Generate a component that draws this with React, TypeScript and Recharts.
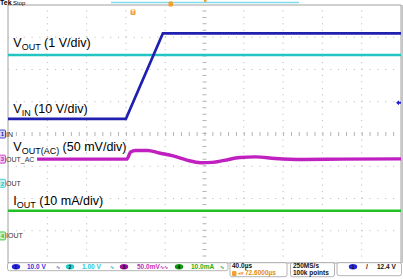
import React from 'react';
import { LineChart, Line, XAxis, YAxis, ReferenceLine, ReferenceArea, ReferenceDot } from 'recharts';

// Scope screen: 10 x 8 divisions. Every value below is in divisions.
const W = 403;
const H = 279;

const C = {
  vin: '#1f1fb0',
  vout: '#22c4c4',
  ac: '#c020c0',
  iout: '#22c022',
  grid: '#b4b4b4',
  border: '#a0a0a0',
  orange: '#f0a030',
  label: '#333',
};

const xDivs = [1, 2, 3, 4, 6, 7, 8, 9];
const yDivs = [-3, -2, -1, 1, 2, 3];

const vinTime = [0, 3.0, 3.94, 10];
const vinLevel = [0.47, 0.47, 3.12, 3.12];

const voutTime = [0, 10];
const voutLevel = [2.45, 2.45];

const acTime = [0.74, 3.02, 3.12, 3.25, 3.55, 3.85, 4.2, 4.55, 4.9, 5.2, 5.5, 5.9, 6.3, 6.8, 7.5, 8.5, 10];
const acLevel = [-0.78, -0.78, -0.56, -0.51, -0.51, -0.59, -0.68, -0.81, -0.89, -0.88, -0.82, -0.73, -0.71, -0.76, -0.79, -0.78, -0.77];

const ioutTime = [0, 10];
const ioutLevel = [-2.38, -2.38];

// channel ground tags on the left edge
const tagNums = ['1', '3', '2', '4'];
const tagNames = ['IN', 'OUT_AC', 'OUT', 'IOUT'];
const tagLevels = [0, -0.78, -1.53, -3.16];
const tagColors = [C.vin, C.ac, C.vout, C.iout];
const tagFills = ['#d4d4fa', '#f2c8f2', '#c8f0f0', '#c8f0c8'];

// trace annotations
const noteMain = ['V', 'V', 'V', 'I'];
const noteSub = ['OUT', 'IN', 'OUT(AC)', 'OUT'];
const noteRest = [' (1 V/div)', ' (10 V/div)', ' (50 mV/div)', ' (10 mA/div)'];
const noteLevels = [2.69, 0.66, -0.52, -2.21];
const noteTime = 0.135;

const trigTime = 3.18;
const trigLevel = 0.97;

const zip = (t: number[], v: number[]) => t.map((x, i) => ({ t: x, v: v[i] }));

function Tag({ cx, cy, num, name, color, fill }: any) {
  return (
    <g>
      <rect x={cx - 8.5} y={cy - 4} width={6} height={8} rx={1} fill={fill} stroke={color} strokeWidth={0.8} />
      <text x={cx - 5.5} y={cy + 2.3} fontSize={6} textAnchor="middle" fill={color} fontFamily="Liberation Sans" fontWeight="bold">{num}</text>
      <text x={cx - 2} y={cy + 2.5} fontSize={7} fill={C.label} fontFamily="Liberation Sans">{name}</text>
    </g>
  );
}

function Note({ cx, cy, main, sub, rest }: any) {
  return (
    <text x={cx} y={cy} fontSize={12.5} fill="#000" fontFamily="Liberation Sans">
      <tspan>{main}</tspan>
      <tspan dy={3} fontSize={9}>{sub}</tspan>
      <tspan dy={-3}>{rest}</tspan>
    </text>
  );
}

function TrigArrow({ cx, cy }: any) {
  return (
    <g fill="#2020d0">
      <polygon points={`${cx - 5},${cy} ${cx - 2},${cy - 2.5} ${cx - 2},${cy + 2.5}`} />
      <rect x={cx - 2.5} y={cy - 1} width={2.5} height={2} />
    </g>
  );
}

function TrigMark({ cx, cy }: any) {
  return (
    <g>
      <rect x={cx - 2.5} y={cy - 2.5} width={5} height={5.5} rx={1} fill={C.orange} />
      <text x={cx} y={cy + 2.2} fontSize={5} textAnchor="middle" fill="#fff" fontFamily="Liberation Sans" fontWeight="bold">T</text>
    </g>
  );
}

const sFont = { fontFamily: 'Liberation Sans', fontWeight: 'bold' as const, fontSize: 6.5 };

function ChanPill({ x, n, fill }: { x: number; n: string; fill: string }) {
  return (
    <g>
      <ellipse cx={x} cy={266.7} rx={4.2} ry={2.7} fill={fill} />
      <text x={x} y={268.6} textAnchor="middle" fontSize={5} fill="#111" fontFamily="Liberation Sans" fontWeight="bold">{n}</text>
    </g>
  );
}

function Overlay() {
  return (
    <svg width={W} height={H} style={{ position: 'absolute', left: 0, top: 0, pointerEvents: 'none' }}>
      <text x={0} y={5} fontSize={7} fontWeight="bold" fontFamily="Liberation Sans" fill="#000">Tek</text>
      <text x={13} y={5} fontSize={6} fontFamily="Liberation Sans" fill="#000">Stop</text>
      <line x1={111} y1={2.5} x2={299} y2={2.5} stroke="#7fdcec" strokeWidth={1.4} />
      <rect x={168.5} y={1.5} width={4.5} height={5} rx={1} fill={C.orange} />
      <rect x={204} y={0} width={2.5} height={2} fill={C.orange} />
      <rect x={401.5} y={5} width={1.5} height={258} fill="#c4c4c4" />

      <rect x={7.5} y={262.7} width={220.5} height={8} rx={2} fill="#fff" stroke={C.border} strokeWidth={0.8} />
      <ChanPill x={16} n="1" fill="#2424e0" />
      <text x={27} y={268.9} fill="#3434e0" {...sFont}>10.0 V</text>
      <text x={56} y={268.9} fill="#6a6ac0" {...sFont} fontSize={5}>∿</text>
      <ChanPill x={70} n="2" fill="#22d0d0" />
      <text x={82} y={268.9} fill="#28c8d8" {...sFont}>1.00 V</text>
      <text x={110} y={268.9} fill="#40b0c0" {...sFont} fontSize={5}>∿</text>
      <ChanPill x={124} n="3" fill="#a010a0" />
      <text x={137} y={268.9} fill="#c030c0" {...sFont}>50.0mV</text>
      <text x={160} y={268.9} fill="#c030c0" {...sFont} fontSize={5}>∿∿</text>
      <ChanPill x={179} n="4" fill="#109a10" />
      <text x={191} y={268.9} fill="#20b020" {...sFont}>10.0mA</text>
      <text x={220} y={268.9} fill="#40a040" {...sFont} fontSize={5}>∿</text>

      <rect x={230} y={262.7} width={57} height={14} rx={2} fill="#fff" stroke={C.border} strokeWidth={0.8} />
      <text x={232} y={268} fill="#111" {...sFont}>40.0µs</text>
      <rect x={232} y={271} width={4.5} height={5} rx={1} fill={C.orange} />
      <text x={237.5} y={275.3} fill={C.orange} {...sFont} fontSize={5}>◂▾</text>
      <text x={245} y={275.3} fill="#e08a10" {...sFont}>72.6000µs</text>

      <rect x={290.5} y={262.7} width={44} height={14} rx={2} fill="#fff" stroke={C.border} strokeWidth={0.8} />
      <text x={293} y={268} fill="#111" {...sFont}>250MS/s</text>
      <text x={293} y={275.3} fill="#111" {...sFont}>100k points</text>

      <rect x={337} y={262.7} width={64.5} height={13} rx={2} fill="#fff" stroke={C.border} strokeWidth={0.8} />
      <ChanPill x={353} n="1" fill="#2424e0" />
      <text x={366} y={268.9} fill="#111" {...sFont}>/</text>
      <text x={377} y={268.9} fill="#111" {...sFont}>12.4 V</text>
    </svg>
  );
}

export default function App() {
  return (
    <div style={{ position: 'absolute', left: 0, top: 0, width: W, height: H, background: '#fff' }}>
      <LineChart width={W} height={H} margin={{ top: 5, right: 2, bottom: 16, left: 8 }}>
        <XAxis type="number" dataKey="t" domain={[0, 10]} hide allowDataOverflow />
        <YAxis type="number" dataKey="v" domain={[-4, 4]} hide allowDataOverflow />
        <ReferenceArea x1={0} x2={10} y1={-4} y2={4} fill="none" stroke={C.border} strokeWidth={1} />
        {xDivs.map((d) => (
          <ReferenceLine key={`x${d}`} x={d} stroke={C.grid} strokeDasharray="1 5.45" />
        ))}
        {yDivs.map((d) => (
          <ReferenceLine key={`y${d}`} y={d} stroke={C.grid} strokeDasharray="1 6.86" />
        ))}
        <ReferenceLine x={5} stroke={C.grid} strokeWidth={4} strokeDasharray="1 5.45" />
        <ReferenceLine y={0} stroke={C.grid} strokeWidth={4} strokeDasharray="1 6.86" />

        <Line data={zip(voutTime, voutLevel)} dataKey="v" stroke={C.vout} strokeWidth={2.6} dot={false} isAnimationActive={false} />
        <Line data={zip(vinTime, vinLevel)} dataKey="v" stroke={C.vin} strokeWidth={2.6} dot={false} isAnimationActive={false} />
        <Line data={zip(acTime, acLevel)} type="monotone" dataKey="v" stroke={C.ac} strokeWidth={3.4} dot={false} isAnimationActive={false} />
        <Line data={zip(ioutTime, ioutLevel)} dataKey="v" stroke={C.iout} strokeWidth={2.6} dot={false} isAnimationActive={false} />

        {tagNums.map((n, i) => (
          <ReferenceDot key={`tag${n}`} x={0} y={tagLevels[i]} ifOverflow="visible"
            shape={(p: any) => <Tag cx={p.cx} cy={p.cy} num={n} name={tagNames[i]} color={tagColors[i]} fill={tagFills[i]} />} />
        ))}
        {noteLevels.map((lv, i) => (
          <ReferenceDot key={`note${i}`} x={noteTime} y={lv} ifOverflow="visible"
            shape={(p: any) => <Note cx={p.cx} cy={p.cy} main={noteMain[i]} sub={noteSub[i]} rest={noteRest[i]} />} />
        ))}
        <ReferenceDot x={10} y={trigLevel} ifOverflow="visible" shape={(p: any) => <TrigArrow cx={p.cx} cy={p.cy} />} />
        <ReferenceDot x={trigTime} y={3.78} ifOverflow="visible" shape={(p: any) => <TrigMark cx={p.cx} cy={p.cy} />} />
      </LineChart>
      <Overlay />
    </div>
  );
}
